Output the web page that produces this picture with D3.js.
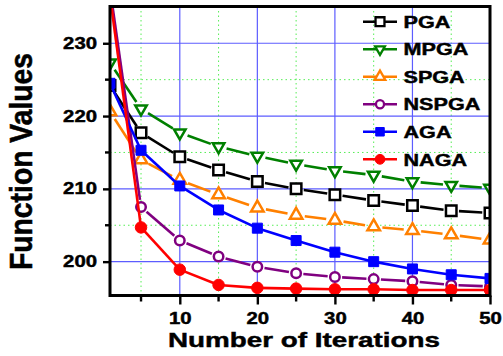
<!DOCTYPE html>
<html>
<head>
<meta charset="utf-8">
<script src="https://cdn.jsdelivr.net/npm/d3@7"></script>
<style>
  html, body { margin: 0; padding: 0; background: #fff; }
  svg { display: block; font-family: "Liberation Sans", Arial, sans-serif; font-weight: bold; }
  svg text { stroke: #000; stroke-width: 0.45px; }
</style>
</head>
<body>
<svg id="chart" width="503" height="356"></svg>
<script>
// ---- data ----
const iterations = [1, 5, 10, 15, 20, 25, 30, 35, 40, 45, 50];
const pga   = [224.2, 217.7, 214.4, 212.6, 211.0, 210.0, 209.2, 208.4, 207.7, 207.0, 206.7];
const mpga  = [227.3, 221.0, 217.7, 215.8, 214.5, 213.4, 212.5, 211.9, 211.0, 210.5, 210.1];
const spga  = [220.6, 214.0, 211.2, 209.2, 207.4, 206.4, 205.7, 204.8, 204.3, 203.7, 203.0];
const nspga = [237.5, 207.5, 202.9, 200.7, 199.3, 198.4, 197.9, 197.6, 197.3, 196.8, 196.6];
const aga   = [224.5, 215.3, 210.4, 207.1, 204.6, 202.9, 201.3, 200.0, 199.0, 198.2, 197.7];
const naga  = [236.5, 204.7, 198.9, 196.8, 196.4, 196.3, 196.2, 196.2, 196.1, 196.1, 196.1];
const seriesNames = ["PGA", "MPGA", "SPGA", "NSPGA", "AGA", "NAGA"];
const seriesValues = [pga, mpga, spga, nspga, aga, naga];

const xTicks = [10, 20, 30, 40, 50];
const xMinorTicks = [5, 15, 25, 35, 45];
const yTicks = [200, 210, 220, 230];
const yMinorTicks = [205, 215, 225];
const xTitle = "Number of Iterations";
const yTitle = "Function Values";

// ---- styles ----
const styles = {
  PGA:   { color: "#000000", shape: "square",   filled: false, size: 10.5 },
  MPGA:  { color: "#008000", shape: "triDown",  filled: false, size: 11.5 },
  SPGA:  { color: "#ff8000", shape: "triUp",    filled: false, size: 12.5 },
  NSPGA: { color: "#800080", shape: "circle",   filled: false, size: 9.5 },
  AGA:   { color: "#0000ff", shape: "square",   filled: true,  size: 10 },
  NAGA:  { color: "#ff0000", shape: "circle",   filled: true,  size: 11.5 }
};
const SX = 1.27;            // horizontal widening of the lettering
const plot = { left: 110, right: 490, top: 6.5, bottom: 295.5 };

const svg = d3.select("#chart");
const x = d3.scaleLinear().domain([1, 50]).range([plot.left, plot.right]);
const y = d3.scaleLinear().domain([195.35, 235.05]).range([plot.bottom, plot.top]);

function widen(sel, f) {
  sel.each(function () {
    const w = this.getComputedTextLength();
    this.setAttribute("textLength", w * f);
    this.setAttribute("lengthAdjust", "spacingAndGlyphs");
  });
}

function markerPath(shape, s) {
  const h = s / 2;
  if (shape === "square") return `M${-h},${-h}H${h}V${h}H${-h}Z`;
  if (shape === "circle") return `M${h},0A${h},${h} 0 1,1 ${-h},0A${h},${h} 0 1,1 ${h},0Z`;
  const th = s * Math.sqrt(3) / 2;
  if (shape === "triUp") return `M0,${-th * 2 / 3}L${h},${th / 3}L${-h},${th / 3}Z`;
  return `M0,${th * 2 / 3}L${h},${-th / 3}L${-h},${-th / 3}Z`;
}

// ---- clip ----
svg.append("defs").append("clipPath").attr("id", "plotClip")
  .append("rect")
  .attr("x", plot.left).attr("y", plot.top)
  .attr("width", plot.right - plot.left).attr("height", plot.bottom - plot.top);

// ---- grid ----
const grid = svg.append("g");
grid.selectAll(".gxm").data(xMinorTicks).join("line")
  .attr("x1", d => x(d)).attr("x2", d => x(d))
  .attr("y1", plot.top).attr("y2", plot.bottom)
  .attr("stroke", "#55ee55").attr("stroke-width", 1).attr("stroke-dasharray", "1.5,3");
grid.selectAll(".gym").data(yMinorTicks).join("line")
  .attr("y1", d => y(d)).attr("y2", d => y(d))
  .attr("x1", plot.left).attr("x2", plot.right)
  .attr("stroke", "#55ee55").attr("stroke-width", 1).attr("stroke-dasharray", "1.5,3");
grid.selectAll(".gx").data(xTicks).join("line")
  .attr("x1", d => x(d)).attr("x2", d => x(d))
  .attr("y1", plot.top).attr("y2", plot.bottom)
  .attr("stroke", "#5c5cff").attr("stroke-width", 1.2);
grid.selectAll(".gy").data(yTicks).join("line")
  .attr("y1", d => y(d)).attr("y2", d => y(d))
  .attr("x1", plot.left).attr("x2", plot.right)
  .attr("stroke", "#5c5cff").attr("stroke-width", 1.2);

// ---- series ----
const plotG = svg.append("g").attr("clip-path", "url(#plotClip)");
seriesNames.forEach((name, si) => {
  const st = styles[name];
  const pts = iterations.map((it, i) => [x(it), y(seriesValues[si][i])]);
  const g = plotG.append("g");
  const gap = st.filled ? 0 : st.size / 2 + 2.5;
  for (let i = 0; i < pts.length - 1; i++) {
    const [x0, y0] = pts[i], [x1, y1] = pts[i + 1];
    const len = Math.hypot(x1 - x0, y1 - y0);
    if (len <= 2 * gap) continue;
    const ux = (x1 - x0) / len, uy = (y1 - y0) / len;
    g.append("line")
      .attr("x1", x0 + ux * gap).attr("y1", y0 + uy * gap)
      .attr("x2", x1 - ux * gap).attr("y2", y1 - uy * gap)
      .attr("stroke", st.color).attr("stroke-width", 2.6);
  }
  g.selectAll("path").data(pts).join("path")
    .attr("transform", d => `translate(${d[0]},${d[1]})`)
    .attr("d", markerPath(st.shape, st.size))
    .attr("fill", st.filled ? st.color : "#fff")
    .attr("stroke", st.color).attr("stroke-width", st.filled ? 1 : 2.5);
});

// ---- frame and axes ----
svg.append("rect")
  .attr("x", plot.left).attr("y", plot.top)
  .attr("width", plot.right - plot.left).attr("height", plot.bottom - plot.top)
  .attr("fill", "none").attr("stroke", "#000").attr("stroke-width", 3);

const xAxis = svg.append("g").attr("transform", `translate(0,${plot.bottom})`)
  .call(d3.axisBottom(x).tickValues(xTicks).tickSize(9).tickPadding(8.5));
const yAxis = svg.append("g").attr("transform", `translate(${plot.left},0)`)
  .call(d3.axisLeft(y).tickValues(yTicks).tickSize(7).tickPadding(6));
[xAxis, yAxis].forEach(a => {
  a.select(".domain").remove();
  a.selectAll(".tick line").attr("stroke", "#000").attr("stroke-width", 2.4);
  a.selectAll("text").attr("fill", "#000").attr("font-size", 16)
    .attr("font-family", "'Liberation Sans', Arial, sans-serif").attr("font-weight", "bold");
});
widen(xAxis.selectAll("text"), SX);
widen(yAxis.selectAll("text"), SX);

svg.append("g").selectAll("line").data(xMinorTicks).join("line")
  .attr("x1", d => x(d)).attr("x2", d => x(d))
  .attr("y1", plot.bottom).attr("y2", plot.bottom + 6)
  .attr("stroke", "#000").attr("stroke-width", 2.4);
svg.append("g").selectAll("line").data(yMinorTicks).join("line")
  .attr("y1", d => y(d)).attr("y2", d => y(d))
  .attr("x1", plot.left - 5).attr("x2", plot.left)
  .attr("stroke", "#000").attr("stroke-width", 2.4);

// ---- titles ----
svg.append("text")
  .attr("x", 304).attr("y", 346.5).attr("text-anchor", "middle")
  .attr("font-size", 21).attr("fill", "#000")
  .attr("textLength", 272).attr("lengthAdjust", "spacingAndGlyphs")
  .text(xTitle);

svg.append("text")
  .attr("transform", "translate(31.5,161.5) scale(1.2,1) rotate(-90)")
  .attr("text-anchor", "middle").attr("font-size", 26).attr("fill", "#000")
  .attr("textLength", 217).attr("lengthAdjust", "spacingAndGlyphs")
  .text(yTitle);

// ---- legend ----
const legendRowY = d3.scaleLinear().domain([0, 5]).range([21.7, 159.3]);
const legend = svg.append("g");
seriesNames.forEach((name, i) => {
  const st = styles[name];
  const cy = legendRowY(i);
  legend.append("line")
    .attr("x1", 363).attr("x2", 397).attr("y1", cy).attr("y2", cy)
    .attr("stroke", st.color).attr("stroke-width", 2.6);
  legend.append("path")
    .attr("transform", `translate(380,${cy})`)
    .attr("d", markerPath(st.shape, st.size * 0.85))
    .attr("fill", st.filled ? st.color : "#fff")
    .attr("stroke", st.color).attr("stroke-width", st.filled ? 1 : 2.3);
  const t = legend.append("text")
    .attr("x", 403.5).attr("y", cy + 6.2)
    .attr("font-size", 17).attr("fill", "#000").text(name);
  widen(t, SX);
});
</script>
</body>
</html>
